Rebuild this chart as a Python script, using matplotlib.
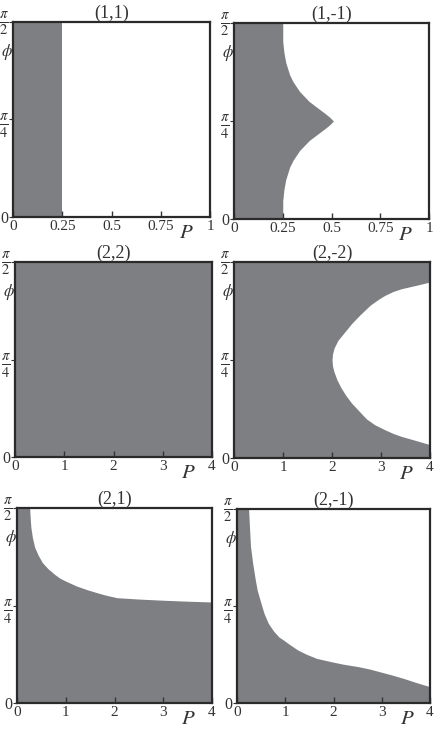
import numpy as np
import matplotlib
matplotlib.use("Agg")
import matplotlib.pyplot as plt
from matplotlib.transforms import ScaledTranslation

plt.rcParams['font.family'] = ['Liberation Serif', 'DejaVu Serif']
plt.rcParams['mathtext.fontset'] = 'stix'

GRAY = '#7e7f83'
INK = '#333333'

titles = ["(1,1)", "(1,-1)", "(2,2)", "(2,-2)", "(2,1)", "(2,-1)"]
pmax = [1, 1, 4, 4, 4, 4]
xticks_small = [0, 0.25, 0.5, 0.75, 1]
xticklabels_small = ["0", "0.25", "0.5", "0.75", "1"]
xticks_big = [0, 1, 2, 3, 4]
xticklabels_big = ["0", "1", "2", "3", "4"]
yticklabels = ["0", r"$\frac{\pi}{4}$", r"$\frac{\pi}{2}$"]

# boundaries: phi as fraction of pi/2, P = right edge of gray region
f11 = [0.0, 1.0]
p11 = [0.25, 0.25]

f1m1 = [0.0, 0.094, 0.15, 0.2, 0.264, 0.3, 0.349, 0.4, 0.434, 0.46, 0.48, 0.5,
        0.52, 0.54, 0.566, 0.6, 0.651, 0.7, 0.736, 0.8, 0.85, 0.906, 1.0]
p1m1 = [0.25, 0.25, 0.256, 0.265, 0.285, 0.303, 0.336, 0.385, 0.43, 0.465, 0.49, 0.51,
        0.49, 0.465, 0.43, 0.385, 0.336, 0.303, 0.285, 0.265, 0.256, 0.25, 0.25]

f22 = [0.0, 1.0]
p22 = [4.0, 4.0]

f2m2 = [0.0, 0.068, 0.09, 0.11, 0.125, 0.144, 0.17, 0.2, 0.24, 0.28, 0.32, 0.36, 0.4,
        0.44, 0.47, 0.5, 0.53, 0.56, 0.6, 0.64, 0.686, 0.73, 0.78, 0.81, 0.83, 0.85,
        0.864, 0.88, 0.898, 1.0]
p2m2 = [4.0, 4.0, 3.7, 3.42, 3.25, 3.08, 2.87, 2.7, 2.55, 2.4, 2.28, 2.18, 2.1,
        2.04, 2.01, 2.0, 2.01, 2.04, 2.12, 2.25, 2.4, 2.57, 2.78, 2.95, 3.08, 3.25,
        3.42, 3.7, 4.0, 4.0]

f21 = [0.0, 0.518, 0.522, 0.527, 0.533, 0.54, 0.553, 0.565, 0.58, 0.6, 0.625, 0.64,
       0.66, 0.69, 0.72, 0.76, 0.8, 0.85, 0.9, 0.95, 1.0]
p21 = [4.0, 4.0, 3.5, 3.0, 2.5, 2.05, 1.82, 1.65, 1.45, 1.22, 1.0, 0.88,
       0.77, 0.63, 0.52, 0.43, 0.36, 0.315, 0.285, 0.27, 0.26]

f2m1 = [0.0, 0.084, 0.105, 0.127, 0.145, 0.161, 0.175, 0.188, 0.2, 0.213, 0.23, 0.25,
        0.273, 0.3, 0.325, 0.34, 0.37, 0.41, 0.462, 0.52, 0.58, 0.634, 0.72, 0.807,
        0.9, 1.0]
p2m1 = [4.0, 4.0, 3.72, 3.45, 3.2, 2.96, 2.75, 2.5, 2.2, 1.95, 1.65, 1.45,
        1.26, 1.1, 0.96, 0.87, 0.76, 0.65, 0.56, 0.49, 0.42, 0.38, 0.325, 0.28,
        0.26, 0.24]

bounds = [(f11, p11), (f1m1, p1m1), (f22, p22), (f2m2, p2m2), (f21, p21), (f2m1, p2m1)]

# axes pixel boxes (x0, y0, x1, y1) top-left origin
boxes = [(13, 22, 210, 217), (234, 23, 429, 219),
         (15, 262, 212, 457), (234, 262, 430, 458),
         (17, 508, 212, 703), (237, 509, 430, 703)]

W, H = 437, 731
fig = plt.figure(figsize=(W / 100, H / 100), dpi=100)

for i in range(6):
    x0, y0, x1, y1 = boxes[i]
    ax = fig.add_axes([x0 / W, 1 - y1 / H, (x1 - x0) / W, (y1 - y0) / H])
    f, p = bounds[i]
    phi = np.array(f) * np.pi / 2
    ax.fill_betweenx(phi, 0, p, color=GRAY, lw=0)
    ax.set_xlim(0, pmax[i])
    ax.set_ylim(0, np.pi / 2)
    if pmax[i] == 1:
        ax.set_xticks(xticks_small)
        ax.set_xticklabels(xticklabels_small)
    else:
        ax.set_xticks(xticks_big)
        ax.set_xticklabels(xticklabels_big)
    ax.set_yticks([0, np.pi / 4, np.pi / 2])
    ax.set_yticklabels(yticklabels)
    ax.tick_params(axis='x', direction='in', length=4, width=1, pad=2,
                   labelsize=11, colors=INK)
    ax.tick_params(axis='y', direction='out', length=3, width=0.8, pad=0.3,
                   labelsize=15, colors=INK)
    ylabs = ax.get_yticklabels()
    ylabs[0].set_fontsize(11.5)
    ylabs[2].set_transform(ylabs[2].get_transform() +
                           ScaledTranslation(0, 4 / 100, fig.dpi_scale_trans))
    for s in ax.spines.values():
        s.set_linewidth(1.6)
        s.set_color('#2a2a2a')
    ax.set_title(titles[i], fontsize=13, pad=1, color=INK)
    ax.text(0.88, -0.035, r"$P$", transform=ax.transAxes, fontsize=15,
            ha='center', va='top', color=INK)
    ax.text(-0.032, 0.845, r"$\phi$", transform=ax.transAxes, fontsize=12,
            ha='center', va='center', color=INK)

fig.savefig("out.png", dpi=100)
